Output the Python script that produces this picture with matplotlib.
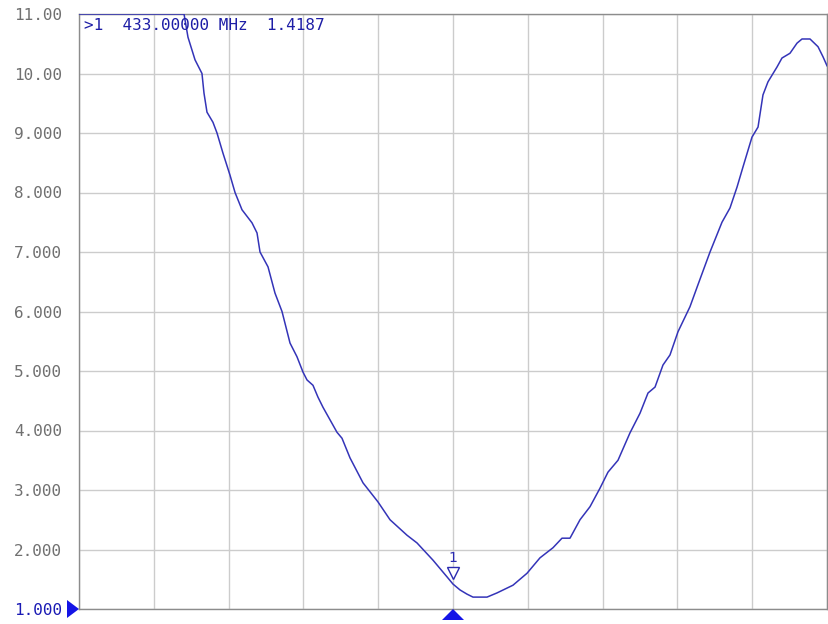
import numpy as np
import matplotlib
matplotlib.use("Agg")
import matplotlib.pyplot as plt
from matplotlib.patches import Polygon

# x in grid divisions (0..10); center division (5) = 433 MHz marker
div_x = [0.0, 1.404, 1.457, 1.551, 1.644, 1.671, 1.711, 1.791, 1.845, 1.925,
         2.019, 2.086, 2.179, 2.313, 2.380, 2.420, 2.527, 2.620, 2.714,
         2.821, 2.914, 2.995, 3.048, 3.128, 3.195, 3.262, 3.449, 3.516,
         3.623, 3.797, 3.997, 4.158, 4.385, 4.519, 4.733, 4.920, 5.000,
         5.094, 5.187, 5.267, 5.455, 5.588, 5.802, 5.989, 6.163, 6.337,
         6.457, 6.564, 6.698, 6.832, 6.965, 7.072, 7.206, 7.366, 7.500,
         7.607, 7.701, 7.807, 7.901, 8.008, 8.168, 8.275, 8.436, 8.596,
         8.703, 8.797, 8.877, 8.997, 9.078, 9.144, 9.211, 9.332, 9.398,
         9.505, 9.599, 9.666, 9.773, 9.880, 9.947, 10.0]
swr = [11.0, 11.0, 10.61, 10.23, 10.0, 9.67, 9.35, 9.18, 9.0, 8.66,
       8.29, 8.0, 7.71, 7.49, 7.32, 7.0, 6.75, 6.31, 6.0,
       5.47, 5.24, 4.98, 4.85, 4.76, 4.56, 4.39, 3.97, 3.87,
       3.54, 3.12, 2.80, 2.50, 2.24, 2.11, 1.82, 1.54, 1.4187,
       1.32, 1.25, 1.20, 1.20, 1.27, 1.40, 1.60, 1.86, 2.03,
       2.19, 2.19, 2.50, 2.72, 3.03, 3.30, 3.50, 3.96, 4.29,
       4.63, 4.73, 5.10, 5.27, 5.66, 6.08, 6.45, 7.0, 7.50,
       7.74, 8.09, 8.43, 8.93, 9.10, 9.64, 9.86, 10.11, 10.26,
       10.34, 10.51, 10.58, 10.58, 10.45, 10.28, 10.13]

ytick_vals = [1, 2, 3, 4, 5, 6, 7, 8, 9, 10, 11]
ytick_labels = ["1.000", "2.000", "3.000", "4.000", "5.000", "6.000",
                "7.000", "8.000", "9.000", "10.00", "11.00"]
marker_x = 5.0
marker_val = 1.4187
marker_text = ">1  433.00000 MHz  1.4187"

W, H = 829, 624
AX_L, AX_R, AX_T, AX_B = 79, 827, 14, 609
aw, ah = AX_R - AX_L, AX_B - AX_T

fig = plt.figure(figsize=(W / 100, H / 100), dpi=100)
ax = fig.add_axes([AX_L / W, 1 - AX_B / H, aw / W, ah / H])

trace = "#3434b8"
ax.plot(div_x, swr, color=trace, lw=1.1, zorder=3)

ax.set_xlim(0, 10)
ax.set_ylim(1, 11)
ax.set_xticks(np.arange(0, 11))
ax.set_yticks(ytick_vals)
ax.set_yticklabels(ytick_labels)
ax.grid(True, color="#cccccc", lw=1.0)
ax.tick_params(axis="x", length=0, labelbottom=False)
ax.tick_params(axis="y", length=0, pad=12, labelsize=11.5, labelcolor="#707070")
for lab in ax.get_yticklabels():
    lab.set_family("DejaVu Sans Mono")
ax.get_yticklabels()[0].set_color("#1a1ab4")
for s in ax.spines.values():
    s.set_color("#8c8c8c")
    s.set_linewidth(1.0)

# marker readout
ax.text(5 / aw, 1 - 11 / ah, marker_text, transform=ax.transAxes,
        color="#1e1ea6", fontsize=11.5, family="DejaVu Sans Mono",
        va="center", ha="left")

# reference-level triangle (left) and marker triangle (bottom)
left_tri = Polygon([(0, 0), (-12 / aw, 9 / ah), (-12 / aw, -9 / ah)],
                   closed=True, transform=ax.transAxes, clip_on=False,
                   facecolor="#1414e6", edgecolor="none", zorder=6)
ax.add_patch(left_tri)
mx = marker_x / 10
bot_tri = Polygon([(mx, 0), (mx - 11 / aw, -11 / ah), (mx + 11 / aw, -11 / ah)],
                  closed=True, transform=ax.transAxes, clip_on=False,
                  facecolor="#1414e6", edgecolor="none", zorder=6)
ax.add_patch(bot_tri)

# marker symbol on trace
ax.plot([marker_x], [1.60], marker="v", ms=8, mfc="white",
        mec="#2a2ab0", mew=1.0, zorder=4)
ax.text(marker_x, 1.74, "1", color="#2a2ab0", fontsize=10,
        family="DejaVu Sans", ha="center", va="bottom", zorder=4)

fig.savefig("out.png", dpi=100, facecolor="white")
